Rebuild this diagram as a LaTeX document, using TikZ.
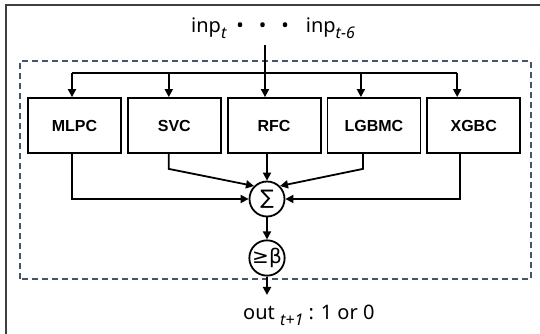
\documentclass[tikz,border=0pt]{standalone}
\usepackage{fontspec}
\setmainfont{Noto Sans}
\newfontfamily\boxfont{Liberation Sans}
\newfontfamily\opfont{DejaVu Sans}
\usepackage{xcolor}
\usepackage{tikz}
\usetikzlibrary{positioning, arrows.meta, calc}
\definecolor{framegray}{HTML}{3F3F3F}
\definecolor{dashblue}{HTML}{44546A}
\newcommand{\lowsub}[1]{\raisebox{-0.55ex}{\fontsize{16}{19}\selectfont\itshape #1}}

\begin{document}
\begin{tikzpicture}[x=1pt, y=1pt,
  model/.style={draw, line width=1.8pt, minimum width=93pt, minimum height=55pt, inner sep=0pt,
    font=\boxfont\bfseries\fontsize{16}{19}\selectfont},
  op/.style={draw, circle, line width=1.8pt, minimum size=35pt, inner sep=0pt,
    font=\opfont\fontsize{20}{24}\selectfont},
  label/.style={inner sep=0pt, font=\fontsize{20}{24}\selectfont},
  wire/.style={line width=1.8pt},
  arrow/.style={wire, -{Triangle[length=8pt, width=8pt]}}]
  \useasboundingbox (0,0) rectangle (540,334);
  \draw[framegray, line width=1.2pt] (6,0) -- (6,329) -- (540,329);
  \draw[dashblue, line width=1.4pt, dash pattern=on 6pt off 4pt] (20,55) rectangle (531,273);

  \node[model] (mlpc) at (74.5,208.5) {MLPC};
  \node[model, right=5pt of mlpc] (svc) {SVC};
  \node[model, right=5pt of svc] (rfc) {RFC};
  \node[model, right=5pt of rfc] (lgbmc) {LGBMC};
  \node[model, right=5pt of lgbmc] (xgbc) {XGBC};

  \node[label, anchor=base west] (inp) at (191,301)
    {inp\lowsub{t}\hspace{10pt}•\hspace{15pt}•\hspace{15pt}•\hspace{17pt}inp\lowsub{t-6}};
  \coordinate (stem) at (265,289);
  \coordinate (bus) at (0,261);

  \node[op] (sum) at (267,135) {∑};
  \node[op] (beta) at (267,76) {≥β};
  \coordinate (outtip) at (267,39);
  \node[label, anchor=base west] (out) at (243,14) {out \lowsub{t+1} : 1 or 0};

  % inputs
  \draw[arrow] (stem) -- (stem |- rfc.north);
  \draw[wire] ([xshift=-2.5pt]mlpc.north |- bus) -- ([xshift=-16.5pt]xgbc.north |- bus);
  \foreach \b/\dx in {mlpc/-2.5, svc/-5.5, lgbmc/-13, xgbc/-16.5}
    \draw[arrow] ([xshift=\dx pt]\b.north |- bus) -- ([xshift=\dx pt]\b.north);

  % voting
  \draw[arrow] ([xshift=-2.5pt]mlpc.south) |- (sum.west);
  \draw[arrow] ([xshift=-13.5pt]xgbc.south) |- (sum.east);
  \draw[arrow] ([xshift=-5.5pt]svc.south) -- ++(0,-15) -- (sum.135);
  \draw[arrow] ([xshift=-11pt]lgbmc.south) -- ++(0,-15) -- (sum.45);
  \draw[arrow] (rfc.south -| sum.north) -- (sum.north);
  \draw[arrow] (sum) -- (beta);
  \draw[arrow] (beta) -- (outtip);
\end{tikzpicture}
\end{document}
